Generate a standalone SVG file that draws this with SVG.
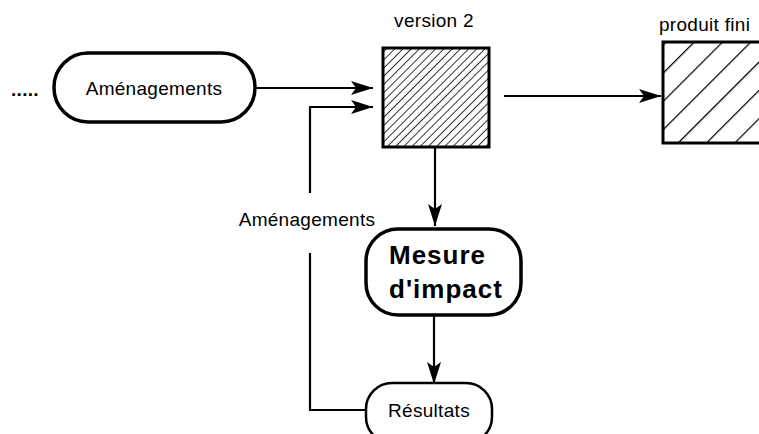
<svg xmlns="http://www.w3.org/2000/svg" width="759" height="434" viewBox="0 0 759 434">
<defs>
<pattern id="hatchFine" patternUnits="userSpaceOnUse" width="5.8" height="8" patternTransform="rotate(45)">
<line x1="0" y1="0" x2="0" y2="8" stroke="#000" stroke-width="1.6"/>
</pattern>
<pattern id="hatchWide" patternUnits="userSpaceOnUse" width="20" height="20" patternTransform="rotate(45)">
<line x1="0" y1="0" x2="0" y2="20" stroke="#000" stroke-width="2.5"/>
</pattern>
<marker id="arr" markerUnits="userSpaceOnUse" markerWidth="24" markerHeight="14" refX="22" refY="7" orient="auto">
<path d="M0,0 L22,7 L0,14 L5,7 Z" fill="#000"/>
</marker>
</defs>
<style>
text{font-family:"Liberation Sans",Arial,sans-serif;fill:#000}
.lbl{font-size:19px;letter-spacing:0.3px}
.big{font-size:26px;font-weight:bold;letter-spacing:1px}
.pill{fill:#fff;stroke:#000;stroke-width:3}
.box{stroke:#000;stroke-width:3}
.con{fill:none;stroke:#000;stroke-width:2.2}
</style>
<rect width="759" height="434" fill="#fff"/>
<g id="connectors">
<line class="con" x1="255" y1="88" x2="373" y2="88" marker-end="url(#arr)"/>
<polyline class="con" points="310,193 310,107 373,107" marker-end="url(#arr)"/>
<polyline class="con" points="365,410 310,410 310,253"/>
<line class="con" x1="504" y1="96" x2="661" y2="96" marker-end="url(#arr)"/>
<line class="con" x1="435" y1="148" x2="435" y2="226" marker-end="url(#arr)"/>
<line class="con" x1="434" y1="316" x2="434" y2="384" marker-end="url(#arr)"/>
<text class="lbl" x="307" y="226" text-anchor="middle">Aménagements</text>
</g>
<g id="dots"><text class="lbl" x="11" y="96" style="font-weight:bold">.....</text></g>
<g id="amenagements">
<rect class="pill" x="54" y="53" width="201" height="69" rx="34" style="stroke-width:3.5"/>
<text class="lbl" x="154" y="95" text-anchor="middle">Aménagements</text>
</g>
<g id="version2">
<text class="lbl" x="434" y="27" text-anchor="middle">version 2</text>
<rect class="box" x="383" y="48" width="106" height="99" fill="url(#hatchFine)"/>
</g>
<g id="produitfini">
<text class="lbl" x="659" y="31">produit fini</text>
<rect class="box" x="663" y="42" width="110" height="101" fill="url(#hatchWide)"/>
</g>
<g id="mesure">
<rect class="pill" x="366" y="229" width="155" height="86" rx="32" style="stroke-width:3.5"/>
<text class="big" x="389" y="264">Mesure</text>
<text class="big" x="389" y="298">d'impact</text>
</g>
<g id="resultats">
<rect class="pill" x="366" y="383" width="126" height="60" rx="26" style="stroke-width:2.5"/>
<text class="lbl" x="429" y="417" text-anchor="middle">Résultats</text>
</g>
</svg>
